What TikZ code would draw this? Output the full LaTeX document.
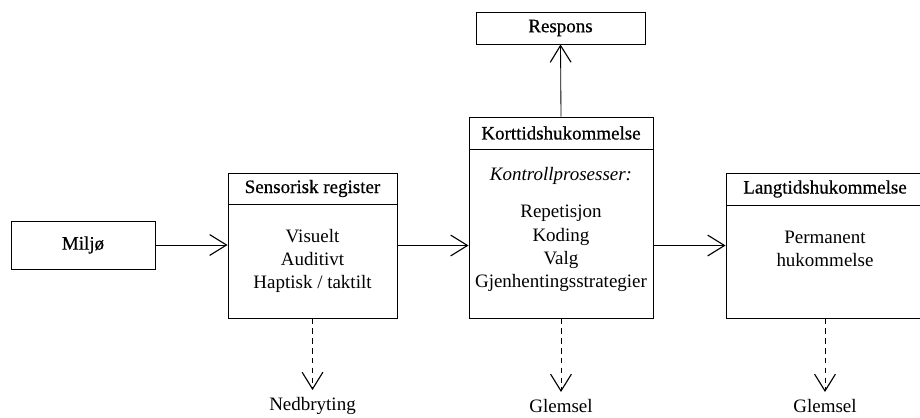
\documentclass[tikz,border=0pt]{standalone}
\usepackage{fontspec}
\setmainfont{Liberation Serif}
\newfontfamily\headfont{Liberation Serif}[FakeBold=0.6]
\usetikzlibrary{positioning}
\usetikzlibrary{arrows.meta}

\tikzset{
  box/.style={rectangle, draw, line width=0.6pt, inner sep=0pt},
  header/.style={rectangle, draw, line width=0.6pt, inner sep=0pt, anchor=north, font=\headfont\fontsize{13.5}{16.5}\selectfont},
  bodytext/.style={align=center, inner sep=0pt},
  flow/.style={line width=0.6pt, -{Straight Barb[length=4.2mm, width=5.2mm, line width=0.8pt]}},
  decay/.style={flow, dashed, dash pattern=on 4pt off 3pt}
}

\begin{document}
\begin{tikzpicture}[x=0.025cm, y=-0.025cm, font=\fontsize{13.5}{16.5}\selectfont]

    \useasboundingbox (0,0) rectangle (920,417);

    % Nodes
    \node[box, minimum width=3.6cm, minimum height=1.2cm, font=\headfont\fontsize{13.5}{16.5}\selectfont] (miljo) at (83,245) {Milj\o};

    \node[box, minimum width=4.225cm, minimum height=3.625cm] (sensor) at (312.5,245.5) {};
    \node[header, minimum width=4.225cm, minimum height=0.775cm] (sensorhead) at (sensor.north) {Sensorisk register};
    \node[bodytext] (sensortext) at (312.5,261) {Visuelt\\Auditivt\\Haptisk / taktilt};

    \node[box, minimum width=4.6cm, minimum height=5.025cm] (kort) at (561,217.5) {};
    \node[header, minimum width=4.6cm, minimum height=0.8cm] (korthead) at (kort.north) {Korttidshukommelse};
    \node[bodytext] (kontroll) at (561,176) {\textit{Kontrollprosesser:}};
    \node[bodytext] (korttext) at (561,248.5) {Repetisjon\\Koding\\Valg\\Gjenhentingsstrategier};

    \node[box, minimum width=4.95cm, minimum height=3.625cm] (lang) at (825,245.5) {};
    \node[header, minimum width=4.95cm, minimum height=0.8cm] (langhead) at (lang.north) {Langtidshukommelse};
    \node[bodytext] (langtext) at (825,248.5) {Permanent\\hukommelse};

    \node[box, minimum width=4.225cm, minimum height=0.8cm, font=\headfont\fontsize{13.5}{16.5}\selectfont] (respons) at (560.5,28) {Respons};

    \node[inner sep=2pt] (nedbryting) at (312.5,406) {Nedbryting};
    \node[inner sep=2pt] (glemsel1) at (561,406) {Glemsel};
    \node[inner sep=2pt] (glemsel2) at (825,406) {Glemsel};

    % Arrows
    \draw[flow] (miljo.east) -- (miljo.east -| sensor.west);
    \draw[flow] (sensor.east) -- (sensor.east -| kort.west);
    \draw[flow] (sensor.east -| kort.east) -- (sensor.east -| lang.west);
    \draw[flow] (kort.north) -- (respons.south);

    % Decay
    \draw[decay] (sensor.south) -- ([yshift=3pt]nedbryting.north);
    \draw[decay] (kort.south) -- ([yshift=3pt]glemsel1.north);
    \draw[decay] (lang.south) -- ([yshift=3pt]glemsel2.north);
  \end{tikzpicture}
\end{document}
